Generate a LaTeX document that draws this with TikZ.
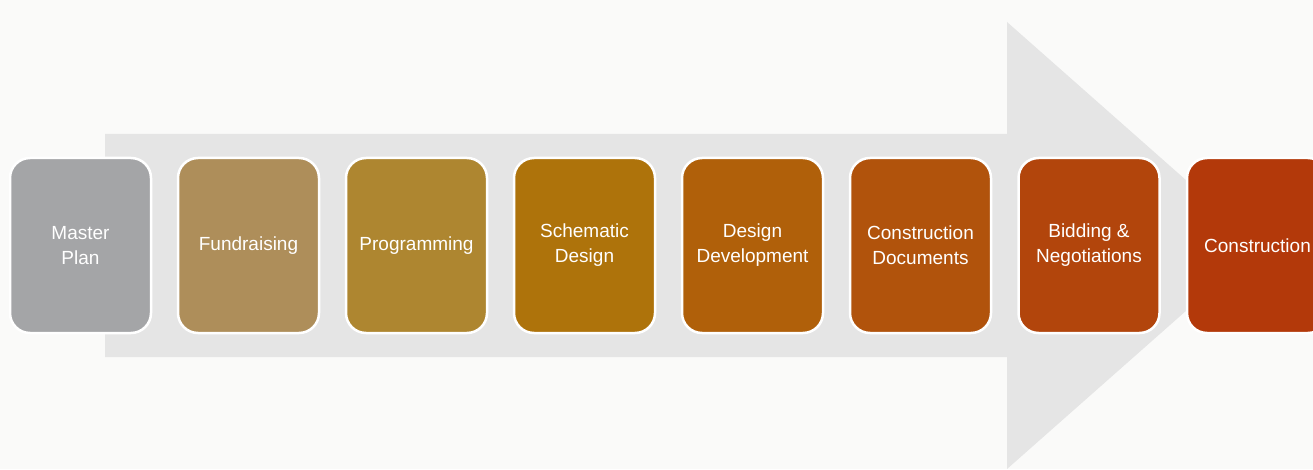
\documentclass[tikz,border=0pt]{standalone}
\usepackage{fontspec}
\setmainfont{Liberation Sans}
\definecolor{bgc}{HTML}{FAFAF9}
\definecolor{arrowc}{HTML}{E5E5E5}
\definecolor{c1}{HTML}{A4A5A7}
\definecolor{c2}{HTML}{AE8E5A}
\definecolor{c3}{HTML}{AE8630}
\definecolor{c4}{HTML}{AE730B}
\definecolor{c5}{HTML}{B0600A}
\definecolor{c6}{HTML}{B1530C}
\definecolor{c7}{HTML}{B2450C}
\definecolor{c8}{HTML}{B3390A}
\tikzset{
  phase/.style={draw=white, line width=2.5pt, rounded corners=20pt,
    minimum width=141pt, minimum height=175pt, inner sep=0pt,
    text=white, align=center, font=\fontsize{19}{25}\selectfont},
}
\begin{document}
\begin{tikzpicture}[x=1pt,y=1pt]
\fill[bgc] (0,0) rectangle (1313,469);
\useasboundingbox (0,0) rectangle (1313,469);
% big arrow (y = 469 - pixel row)
\fill[arrowc] (105,335) -- (1007,335) -- (1007,447) -- (1260,223.5) -- (1007,0) -- (1007,112) -- (105,112) -- cycle;
\begin{scope}
\clip (0,0) rectangle (1313,469);
\node[phase, fill=c1] (mp) at (80.5,223.5) {Master\\Plan};
\node[phase, fill=c2] (fr) at (248.5,223.5) {Fundraising};
\node[phase, fill=c3] (pg) at (416.5,223.5) {Programming};
\node[phase, fill=c4] (sd) at (584.5,223.5) {Schematic\\Design};
\node[phase, fill=c5] (dd) at (752.5,223.5) {Design\\Development};
\node[phase, fill=c6] (cd) at (920.5,223.5) {Construction\\Documents};
\node[phase, fill=c7] (bn) at (1089,223.5) {Bidding \&\\Negotiations};
\node[phase, fill=c8] (cn) at (1257.5,223.5) {Construction};
\end{scope}
\end{tikzpicture}
\end{document}
